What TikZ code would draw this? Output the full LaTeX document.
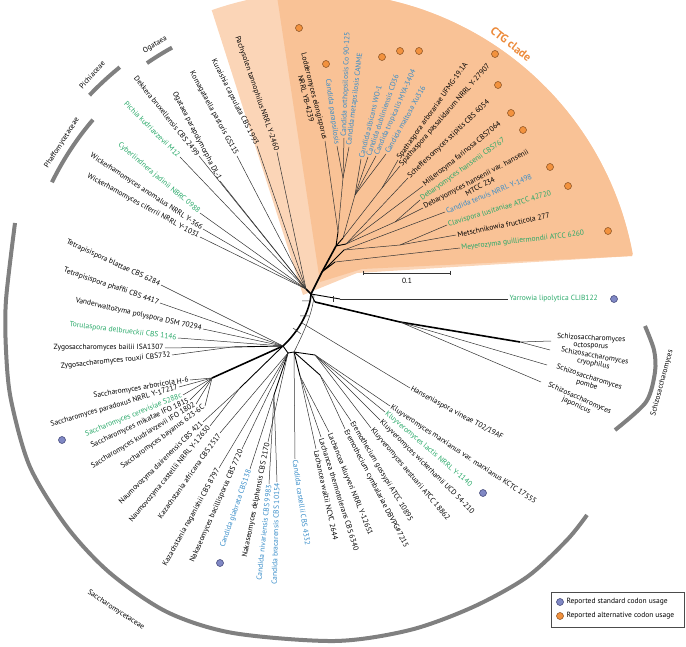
\documentclass[tikz,border=0pt]{standalone}
\usepackage{fontspec}
\setmainfont{PT Sans}
\definecolor{tgreen}{RGB}{40,168,104}
\definecolor{tblue}{RGB}{55,140,200}
\definecolor{wedgeD}{RGB}{249,194,150}
\definecolor{wedgeL}{RGB}{251,213,183}
\definecolor{ctgtxt}{RGB}{236,138,58}
\definecolor{dotO}{RGB}{242,146,62}
\definecolor{dotOl}{RGB}{130,75,30}
\definecolor{dotB}{RGB}{128,136,196}
\definecolor{dotBl}{RGB}{55,60,110}
\definecolor{arcg}{RGB}{128,128,128}
\tikzset{
  br/.style={line width=0.5pt, black!80},
  core/.style={line width=0.9pt, black},
  thk/.style={line width=1.6pt, black},
  lbl/.style={font=\fontsize{7.5}{8.5}\selectfont, inner sep=1.3pt},
  slbl/.style={font=\fontsize{7.5}{7.6}\selectfont, inner sep=0pt, align=center},
  tk/.style={text=black},
  tg/.style={text=tgreen},
  tb/.style={text=tblue},
  odot/.style={circle, fill=dotO, draw=dotOl, line width=0.5pt, minimum size=7pt, inner sep=0pt},
  bdot/.style={circle, fill=dotB, draw=dotBl, line width=0.5pt, minimum size=7pt, inner sep=0pt},
  clade/.style={line width=4pt, arcg},
}
\newcommand\lf[7]{%
  \coordinate (#1) at #3;
  \draw[br] (#2) -- (#1);
  \node[lbl,#6,rotate=#4,anchor=#5] (#1t) at (#1) {#7};
}
\begin{document}
\begin{tikzpicture}[x=1pt,y=-1pt]
\useasboundingbox (0,0) rectangle (686,647);
% CTG wedge
\fill[wedgeL] (303,295) -- (357,273) -- (632,256) -- plot[domain=10.5:109.4,samples=60] ({318+320*cos(\x)},{312-320*sin(\x)}) -- cycle;
\fill[wedgeD] (320,282) -- (362,269) -- (632,256) -- plot[domain=10.5:97.4,samples=60] ({318+320*cos(\x)},{312-320*sin(\x)}) -- cycle;
\node[rotate=-38, text=ctgtxt, font=\fontsize{11.5}{13}\selectfont\bfseries] (ctg) at (511,44) {CTG clade};
% scale bar
\coordinate (sb1) at (363,273);
\coordinate (sb2) at (450,273);
\draw[br] (sb1) -- (sb2);
\draw[br] (sb1) ++(0,-2) -- ++(0,4);
\draw[br] (sb2) ++(0,-2) -- ++(0,4);
\node[lbl] (sbt) at (407,281) {0.1};
% internal nodes
\coordinate (hub) at (311,294);
\coordinate (tl) at (306,289);
\coordinate (ct1) at (322,272);
\coordinate (ct2) at (336,246);
\coordinate (ctA) at (338,232);
\coordinate (ctB) at (343,238);
\coordinate (ct4) at (346,244);
\coordinate (ct5) at (344,250);
\coordinate (ct6) at (335,262);
\coordinate (psi) at (343,178);
\coordinate (alb) at (355,195);
\coordinate (spa) at (382,188);
\coordinate (dh) at (395,222);
\coordinate (cm) at (400,245);
\coordinate (yar0) at (340,299);
\coordinate (sch0) at (315,302);
\coordinate (sch1) at (400,322);
\coordinate (sch2) at (520,342);
\coordinate (han0) at (302,323);
\coordinate (sc1) at (283,346);
\coordinate (sc2) at (288,353);
\coordinate (sc3) at (294,352);
\coordinate (zy) at (232,347);
\coordinate (sa) at (212,378);
\coordinate (nm) at (240,388);
\coordinate (gl) at (274,395);
\coordinate (lc) at (300,376);
\coordinate (er) at (320,375);
\coordinate (kl) at (315,355);
% core network
\draw[thk] (hub) -- (ct1) -- (ct2);
\draw[core] (ct2) -- (ctA) (ct2) -- (ctB) (ct2) -- (ct4) (ct1) -- (ct5) (ct1) -- (ct6);
\draw[br] (psi) -- (ctA) (alb) -- (ctB) (spa) -- (ctB) (dh) -- (ct4) (cm) -- (ct5);
\draw[thk] (tl) -- (hub);
\draw[thk] (hub) .. controls (310,310) and (300,330) .. (sc1);
\draw[br] (hub) ++(3,1) .. controls (313,312) and (304,332) .. (sc3);
\draw[br] (302,301) -- (311,301) (300,316) -- (309,316) (293,328) -- (301,334);
\draw[core] (sc1) -- (sc2) -- (sc3);
\draw[core] (zy) -- (sc1);
\draw[core] (nm) -- (sc1);
\draw[thk] (sa) -- (sc1);
\draw[core] (gl) -- (sc2);
\draw[core] (lc) -- (sc3) (er) -- (sc3) (kl) -- (sc3);
\draw[core] (hub) -- (yar0);
\draw[br] (333,296) -- (333,302);
\draw[core] (hub) -- (sch0);
\draw[thk] (sch0) -- (sch1) -- (sch2);
% top-left leaves
\lf{pach}{tl}{(277,152)}{-71}{east}{tk}{Pachysolen tannophilus NRRL Y-2460}
\lf{kura}{tl}{(257,146)}{-63.2}{east}{tk}{Kuraishia capsulata CBS 1993}
\lf{koma}{tl}{(237,156)}{-61.6}{east}{tk}{Komagataella pastoris GS115}
\lf{ogpa}{tl}{(220,181)}{-62.7}{east}{tk}{Ogataea parapolymorpha DL-1}
\lf{dekk}{tl}{(199,156)}{-51.3}{east}{tk}{Dekkera bruxellensis CBS 2499}
\lf{pich}{tl}{(180,157)}{-45}{east}{tg}{Pichia kudriavzevii M12}
\lf{cybe}{tl}{(200,213)}{-40.3}{east}{tg}{Cyberlindnera jadinii NBRC 0988}
\lf{wano}{tl}{(203,229)}{-33.4}{east}{tk}{Wickerhamomyces anomalus NRRL Y-366}
\lf{wcif}{tl}{(200,237)}{-28.6}{east}{tk}{Wickerhamomyces ciferrii NRRL Y-1031}
% Saccharomycetaceae left
\lf{tbla}{sc1}{(161,285)}{-24.7}{east}{tk}{Tetrapisispora blattae CBS 6284}
\lf{tpha}{sc1}{(160,303)}{-18.9}{east}{tk}{Tetrapisispora phaffii CBS 4417}
\lf{vand}{sc1}{(203,329)}{-12.7}{east}{tk}{Vanderwaltozyma polyspora DSM 70294}
\lf{toru}{sc1}{(178,338)}{-7.1}{east}{tg}{Torulaspora delbrueckii CBS 1146}
\lf{zbai}{zy}{(165,348)}{0}{east}{tk}{Zygosaccharomyces bailii ISA1307}
\lf{zrou}{zy}{(172,355)}{5.9}{east}{tk}{Zygosaccharomyces rouxii CBS732}
\lf{sarb}{sa}{(190,380)}{9.4}{east}{tk}{Saccharomyces arboricola H-6}
\lf{spar}{sa}{(179,387)}{16.5}{east}{tk}{Saccharomyces paradoxus NRRL Y-17217}
\lf{scer}{sa}{(183,395)}{22}{east}{tg}{Saccharomyces cerevisiae S288c}
\lf{smik}{sa}{(190,400)}{25}{east}{tk}{Saccharomyces mikatae IFO 1815}
\lf{skud}{sa}{(196,404)}{31}{east}{tk}{Saccharomyces kudriavzevii IFO 1802}
\lf{sbay}{sa}{(205,406)}{36.4}{east}{tk}{Saccharomyces bayanus 623-6C}
\lf{ndai}{nm}{(203,422)}{44.3}{east}{tk}{Naumovozyma dairenensis CBS 421}
\lf{ncas}{nm}{(210,426)}{50.3}{east}{tk}{Naumovozyma castellii NRRL Y-12630}
\lf{kafr}{sc2}{(220,433)}{54.4}{east}{tk}{Kazachstania africana CBS 2517}
\lf{knag}{sc2}{(219,468)}{60.9}{east}{tk}{Kazachstania naganishii CBS 8797}
\lf{nbac}{sc2}{(242,449)}{66.2}{east}{tk}{Nakaseomyces bacillisporus CBS 7720}
\lf{cgla}{gl}{(250,469)}{70.6}{east}{tb}{Candida glabrata CBS138}
\lf{ndel}{sc2}{(268,442)}{78.7}{east}{tk}{Nakaseomyces delphensis CBS 2170}
\lf{cniv}{gl}{(269,484)}{84}{east}{tb}{Candida nivariensis CBS 9983}
\lf{cbra}{gl}{(277,482)}{88.4}{east}{tb}{Candida bracarensis CBS 10154}
% Saccharomycetaceae right
\lf{ccas}{sc3}{(295,459)}{-81.5}{west}{tb}{Candida castellii CBS 4332}
\lf{lwal}{lc}{(316,449)}{-77.7}{west}{tk}{Lachancea waltii NCYC 2644}
\lf{lthe}{lc}{(321,437)}{-72.6}{west}{tk}{Lachancea thermotolerans CBS 6340}
\lf{lklu}{lc}{(329,432)}{-68.1}{west}{tk}{Lachancea kluyveri NRRL Y-12651}
\lf{ecym}{er}{(345,429)}{-62.6}{west}{tk}{Eremothecium cymbalariae DBVPG\#7215}
\lf{egos}{er}{(351,421)}{-59}{west}{tk}{Eremothecium gossypii ATCC 10895}
\lf{kaes}{kl}{(371,428)}{-49.8}{west}{tk}{Kluyveromyces aestuarii ATCC 18862}
\lf{kwic}{kl}{(380,420)}{-45}{west}{tk}{Kluyveromyces wickerhamii UCD 54-210}
\lf{klac}{kl}{(385,412)}{-40.5}{west}{tg}{Kluyveromyces lactis NRRL Y-1140}
\lf{kmar}{kl}{(390,406)}{-33.5}{west}{tk}{Kluyveromyces marxianus var. marxianus KCTC 17555}
\lf{hans}{han0}{(410,388)}{-28.4}{west}{tk}{Hanseniaspora vineae T02/19AF}
\lf{yarr}{yar0}{(508,299)}{0}{west}{tg}{Yarrowia lipolytica CLIB122}
% Schizosaccharomyces
\coordinate (socto) at (551,341);
\coordinate (scryo) at (550,350);
\coordinate (spomb) at (547,365);
\coordinate (sjapo) at (541,382);
\draw[br] (sch2) -- (socto) (sch2) -- (scryo) (sch1) -- (spomb) (sch1) -- (sjapo);
\node[slbl, rotate=-3] (soctot) at (591,342) {Schizosaccharomyces\\octosporus};
\node[slbl, rotate=-10.5] (scryot) at (594,360) {Schizosaccharomyces\\cryophilus};
\node[slbl, rotate=-17.8] (spombt) at (588,381) {Schizosaccharomyces\\pombe};
\node[slbl, rotate=-24] (sjapot) at (578,402) {Schizosaccharomyces\\japonicus};
% CTG leaves
\lf{meye}{ct6}{(460,248)}{6.6}{west}{tg}{Meyerozyma guilliermondii ATCC 6260}
\lf{mets}{cm}{(456,235)}{11.8}{west}{tk}{Metschnikowia fructicola 277}
\lf{clav}{cm}{(447,225)}{17}{west}{tg}{Clavispora lusitaniae ATCC 42720}
\lf{cten}{ct5}{(445,212)}{22.4}{west}{tb}{Candida tenuis NRRL Y-1498}
\coordinate (dhv) at (423,208);
\draw[br] (dh) -- (dhv);
\node[lbl, rotate=28.2, anchor=west] (dhvt) at (dhv) {Debaryomyces hansenii var. hansenii};
\node[lbl, rotate=28.2, anchor=north, inner sep=0.2pt] (dhvt2) at (dhvt.south) {MTCC 234};
\lf{dhan}{dh}{(420,200)}{35.5}{west}{tg}{Debaryomyces hansenii CBS767}
\lf{mfar}{ct4}{(423,186)}{39.1}{west}{tk}{Millerozyma farinosa CBS7064}
\lf{ssti}{ct4}{(408,178)}{43.6}{west}{tk}{Scheffersomyces stipitis CBS 6054}
\lf{spas}{spa}{(400,166)}{48.5}{west}{tk}{Spathaspora passalidarum NRRL Y-27907}
\lf{sarbo}{spa}{(398,160)}{54.7}{west}{tk}{Spathaspora arborariae UFMG-19.1A}
\lf{cmal}{alb}{(386,154)}{61}{west}{tb}{Candida maltosa Xu316}
\lf{ctro}{alb}{(376,156)}{66}{west}{tb}{Candida tropicalis MYA-3404}
\lf{cdub}{alb}{(368,157)}{71}{west}{tb}{Candida dubliniensis CD36}
\lf{calb}{alb}{(361,159)}{76}{west}{tb}{Candida albicans WO-1}
\lf{cmet}{psi}{(349,147)}{83}{west}{tb}{Candida metapsilosis CANME}
\lf{cort}{psi}{(344,138)}{88}{west}{tb}{Candida orthopsilosis Co 90-125}
\lf{cpar}{psi}{(337,146)}{-82}{east}{tb}{Candida parapsilosis}
\coordinate (lodd) at (325,141);
\draw[br] (ctA) -- (lodd);
\node[lbl, rotate=-76, anchor=east] (loddt) at (lodd) {Lodderomyces elongisporus};
\node[lbl, rotate=-76, anchor=north, inner sep=0.2pt] (loddt2) at (loddt.south) {NRRL YB-4239};
% dots
\foreach \p [count=\i] in {(299,28),(326,64),(382,57),(400,51),(419,51),(495,54),(498,85),(511,113),(523,130),(550,167),(568,186),(608,231)}
  \node[odot] (od\i) at \p {};
\foreach \p [count=\i] in {(614,299),(483,493),(62,440),(220,563)}
  \node[bdot] (bd\i) at \p {};
% clade arcs
\draw[clade] plot[domain=118.9:124.5,samples=10] ({318+302*cos(\x)},{312-302*sin(\x)});
\draw[clade] plot[domain=129:136.5,samples=10] ({318+315*cos(\x)},{312-315*sin(\x)});
\draw[clade] plot[domain=139.5:154,samples=15] ({318+296*cos(\x)},{312-296*sin(\x)});
\draw[clade] plot[smooth] coordinates {(15,223) (6,300) (6,350) (11,400) (30,467) (67,527) (110,573) (167,612) (233,633) (335,641) (410,630) (473,607) (527,577) (567,540) (587,515)};
\draw[clade] plot[smooth] coordinates {(645,326) (654,350) (655,372) (646,402) (615,430)};
\node[lbl, rotate=31] (ogatl) at (155,45) {Ogataea};
\node[lbl, rotate=48] (pichl) at (92,75) {Pichiaceae};
\node[lbl, rotate=57.5] (phafl) at (62,143) {Phaffomycetaceae};
\node[lbl, rotate=-33] (sacl) at (116,610) {Saccharomycetaceae};
\node[lbl, rotate=75] (schl) at (662,383) {Schizosaccharomyces};
% legend
\draw[line width=0.5pt, black!70] (551,592) rectangle (684,627);
\node[bdot] (lgb) at (560,602) {};
\node[lbl, anchor=west] (lgbt) at (565,602) {Reported standard codon usage};
\node[odot] (lgo) at (560,616) {};
\node[lbl, anchor=west] (lgot) at (565,616) {Reported alternative codon usage};
\end{tikzpicture}
\end{document}
